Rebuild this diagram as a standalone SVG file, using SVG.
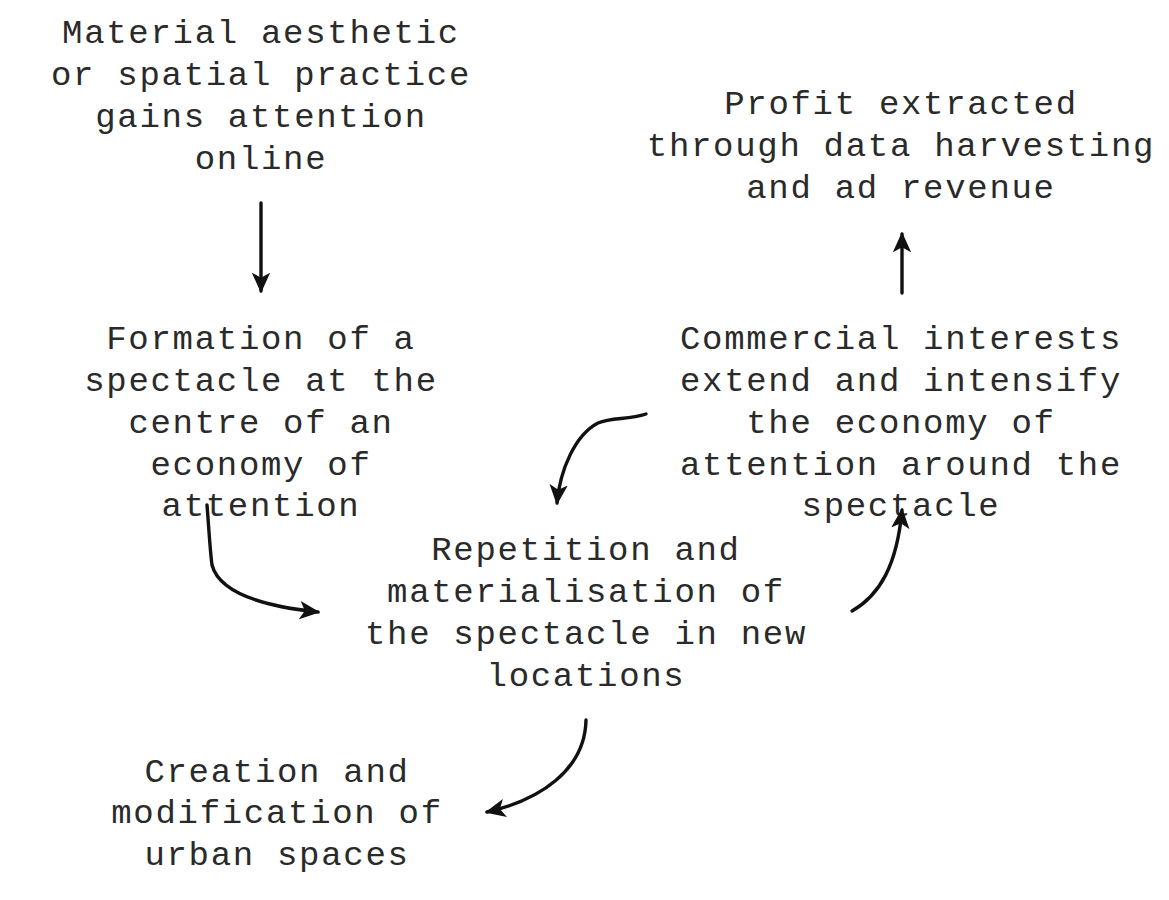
<svg xmlns="http://www.w3.org/2000/svg" width="1169" height="900" viewBox="0 0 1169 900">
<defs>
<style>
text{font-family:"Liberation Mono","Courier New",monospace;font-size:34px;letter-spacing:1.7px;fill:#2a2a2a;text-anchor:middle}
.c{fill:none;stroke:#111;stroke-width:3.4;stroke-linecap:round}
</style>
<marker id="ah" viewBox="0 0 10 10" refX="9" refY="5" markerWidth="6" markerHeight="6" orient="auto" markerUnits="strokeWidth">
<path d="M0,0.5 L10,5 L0,9.5 L2.5,5 Z" fill="#111"/>
</marker>
</defs>
<rect width="1169" height="900" fill="#fff"/>
<g id="n1">
<text x="261" y="43">Material aesthetic</text>
<text x="261" y="85">or spatial practice</text>
<text x="261" y="127">gains attention</text>
<text x="261" y="169">online</text>
</g>
<g id="n2">
<text x="901" y="114">Profit extracted</text>
<text x="901" y="156">through data harvesting</text>
<text x="901" y="198">and ad revenue</text>
</g>
<g id="n3">
<text x="261" y="349">Formation of a</text>
<text x="261" y="391">spectacle at the</text>
<text x="261" y="433">centre of an</text>
<text x="261" y="475">economy of</text>
<text x="261" y="516">attention</text>
</g>
<g id="n4">
<text x="901" y="349">Commercial interests</text>
<text x="901" y="391">extend and intensify</text>
<text x="901" y="433">the economy of</text>
<text x="901" y="475">attention around the</text>
<text x="901" y="516">spectacle</text>
</g>
<g id="n5">
<text x="586" y="560">Repetition and</text>
<text x="586" y="602">materialisation of</text>
<text x="586" y="644">the spectacle in new</text>
<text x="586" y="686">locations</text>
</g>
<g id="n6">
<text x="277" y="782">Creation and</text>
<text x="277" y="823">modification of</text>
<text x="277" y="865">urban spaces</text>
</g>
<g id="connectors">
<path class="c" d="M261,203 L261,291" marker-end="url(#ah)"/>
<path class="c" d="M902,293 L902,234" marker-end="url(#ah)"/>
<path class="c" d="M207,505 C209,530 210,550 212,565 C220,595 270,607 318,612" marker-end="url(#ah)"/>
<path class="c" d="M646,414 C628,420 612,417 598,423 C575,435 560,470 557,503" marker-end="url(#ah)"/>
<path class="c" d="M852,611 C880,595 897,565 902,510" marker-end="url(#ah)"/>
<path class="c" d="M586,720 C585,770 540,800 487,812" marker-end="url(#ah)"/>
</g>
</svg>
